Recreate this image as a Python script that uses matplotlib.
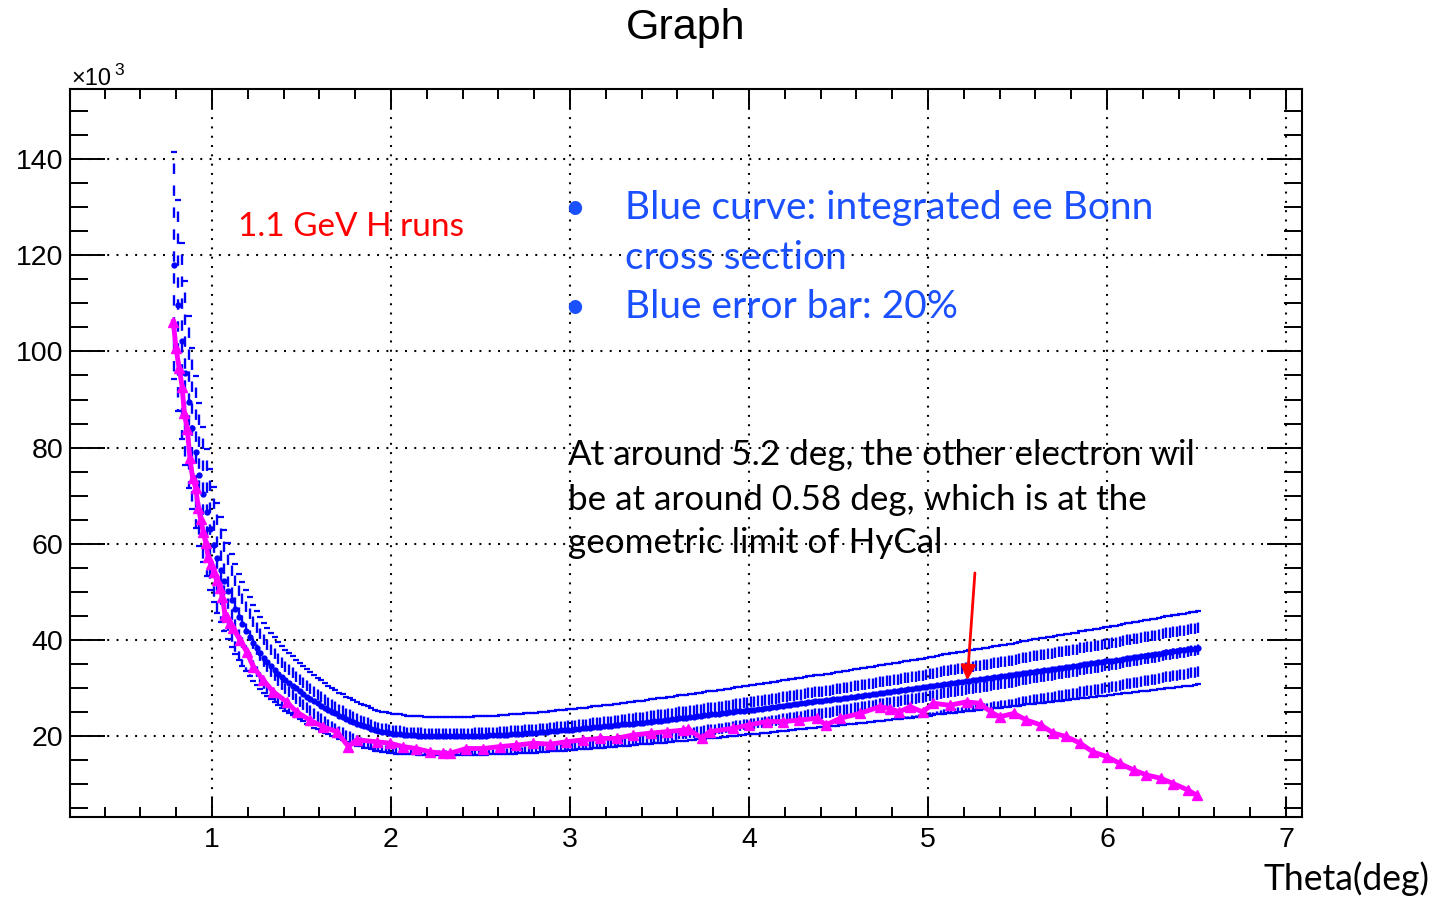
import matplotlib
matplotlib.use("Agg")
import matplotlib.pyplot as plt
import numpy as np

plt.rcParams["lines.scale_dashes"] = False
plt.rcParams["font.family"] = ["Liberation Sans", "DejaVu Sans"]

# blue curve: integrated ee Bonn cross section (x10^3), one point every 0.02 deg from 0.79
theta_bonn = np.round(np.arange(0.79, 6.5101, 0.02), 2)
xsec_bonn = [
    117.9, 109.6, 102.2, 95.5, 89.5, 84.0, 79.0, 74.4, 70.3, 66.5,
    63.0, 59.8, 57.1, 54.6, 52.3, 50.1, 48.2, 46.4, 44.8, 43.3,
    41.9, 40.7, 39.4, 38.3, 37.3, 36.3, 35.4, 34.6, 33.8, 33.0,
    32.3, 31.6, 31.1, 30.5, 29.9, 29.3, 28.8, 28.2, 27.8, 27.2,
    26.8, 26.3, 25.9, 25.4, 25.0, 24.7, 24.2, 23.9, 23.5, 23.2,
    22.9, 22.5, 22.3, 22.0, 21.8, 21.5, 21.2, 21.0, 20.9, 20.8,
    20.6, 20.5, 20.4, 20.4, 20.3, 20.2, 20.2, 20.2, 20.1, 20.1,
    20.0, 20.0, 20.0, 20.0, 20.0, 20.0, 20.0, 20.0, 20.0, 20.0,
    20.0, 20.0, 20.0, 20.0, 20.1, 20.1, 20.1, 20.1, 20.2, 20.2,
    20.2, 20.3, 20.3, 20.3, 20.4, 20.4, 20.5, 20.5, 20.6, 20.6,
    20.7, 20.7, 20.8, 20.9, 20.9, 21.0, 21.0, 21.1, 21.2, 21.2,
    21.3, 21.3, 21.4, 21.5, 21.6, 21.6, 21.7, 21.8, 21.8, 21.9,
    22.0, 22.1, 22.1, 22.2, 22.3, 22.4, 22.4, 22.5, 22.6, 22.7,
    22.8, 22.8, 22.9, 23.0, 23.1, 23.2, 23.2, 23.3, 23.4, 23.5,
    23.6, 23.7, 23.8, 23.8, 23.9, 24.0, 24.1, 24.2, 24.3, 24.4,
    24.5, 24.5, 24.6, 24.7, 24.8, 24.9, 25.0, 25.1, 25.2, 25.3,
    25.4, 25.5, 25.5, 25.6, 25.7, 25.8, 25.9, 26.0, 26.1, 26.2,
    26.3, 26.4, 26.5, 26.6, 26.7, 26.8, 26.9, 27.0, 27.1, 27.2,
    27.3, 27.3, 27.4, 27.5, 27.6, 27.7, 27.8, 27.9, 28.0, 28.1,
    28.2, 28.3, 28.4, 28.5, 28.6, 28.7, 28.8, 28.9, 29.0, 29.1,
    29.2, 29.3, 29.4, 29.5, 29.6, 29.7, 29.8, 29.9, 30.0, 30.1,
    30.2, 30.3, 30.4, 30.6, 30.7, 30.8, 30.9, 31.0, 31.1, 31.2,
    31.3, 31.4, 31.5, 31.6, 31.7, 31.8, 31.9, 32.0, 32.1, 32.2,
    32.3, 32.4, 32.5, 32.6, 32.7, 32.8, 32.9, 33.1, 33.2, 33.3,
    33.4, 33.5, 33.6, 33.7, 33.8, 33.9, 34.0, 34.1, 34.2, 34.3,
    34.4, 34.5, 34.6, 34.8, 34.9, 35.0, 35.1, 35.2, 35.3, 35.4,
    35.5, 35.6, 35.7, 35.8, 35.9, 36.1, 36.2, 36.3, 36.4, 36.5,
    36.6, 36.7, 36.8, 36.9, 37.0, 37.1, 37.3, 37.4, 37.5, 37.6,
    37.7, 37.8, 37.9, 38.0, 38.1, 38.2, 38.4,
]
err_frac = 0.2  # 20% error bars

# magenta: 1.1 GeV H runs (x10^3)
theta_data = [0.784, 0.799, 0.817, 0.834, 0.845, 0.862, 0.877, 0.892, 0.909, 0.924,
              0.937, 0.951, 0.966, 0.979, 0.994, 1.011, 1.026, 1.045, 1.058, 1.073,
              1.082, 1.100, 1.119, 1.156, 1.194, 1.231, 1.287, 1.343, 1.417, 1.473,
              1.547, 1.622, 1.697, 1.762, 1.808, 1.920, 1.994, 2.067, 2.140, 2.218,
              2.290, 2.330, 2.420, 2.516, 2.610, 2.700, 2.795, 2.890, 2.980, 3.075,
              3.170, 3.260, 3.350, 3.450, 3.540, 3.630, 3.660, 3.736, 3.780, 3.910,
              4.000, 4.100, 4.190, 4.280, 4.380, 4.430, 4.510, 4.620, 4.730, 4.790,
              4.840, 4.900, 4.970, 5.030, 5.120, 5.215, 5.290, 5.350, 5.400, 5.480,
              5.550, 5.630, 5.700, 5.770, 5.850, 5.920, 6.000, 6.070, 6.150, 6.220,
              6.300, 6.370, 6.450, 6.500]
xsec_data = [106.2, 100.7, 96.5, 92.6, 87.2, 83.8, 77.8, 73.7, 71.6, 67.5,
             65.1, 62.5, 60.1, 57.3, 55.8, 54.2, 52.4, 50.8, 49.0, 45.2,
             44.8, 43.5, 42.4, 40.0, 37.5, 34.4, 31.6, 29.2, 27.1, 25.0,
             23.3, 21.9, 20.9, 17.8, 19.2, 18.8, 18.5, 17.8, 17.4, 16.7,
             16.4, 16.4, 17.4, 17.4, 17.8, 18.1, 18.5, 18.3, 18.8, 19.2,
             19.5, 19.5, 20.2, 20.6, 20.9, 21.2, 21.5, 19.5, 20.9, 21.6,
             22.3, 23.0, 23.0, 23.3, 23.7, 22.3, 23.7, 24.7, 26.1, 25.7,
             25.0, 26.1, 25.0, 26.8, 26.4, 27.1, 26.8, 25.0, 24.0, 24.7,
             23.3, 22.3, 20.6, 19.9, 18.5, 16.7, 15.7, 14.3, 12.9, 11.9,
             11.2, 10.1, 8.8, 7.7]

W, H = 1439, 899
fig = plt.figure(figsize=(W / 100, H / 100), dpi=100)
ax = fig.add_axes([70 / W, 1 - 817 / H, (1302 - 70) / W, (817 - 89) / H])

ax.set_xlim(0.207, 7.089)
ax.set_ylim(3.15, 154.6)

# error bars drawn top -> bottom with a dash pattern
xb = np.asarray(theta_bonn)
yb = np.asarray(xsec_bonn)
ax.vlines(xb, yb * (1 + err_frac), yb * (1 - err_frac), colors="blue", lw=1.7,
          linestyles=[(7.5, (7.5, 8.3))], zorder=3)
ax.plot(xb, yb * (1 + err_frac), ls="none", marker="_", ms=5, mew=1.6, color="blue", zorder=3)
ax.plot(xb, yb * (1 - err_frac), ls="none", marker="_", ms=5, mew=1.6, color="blue", zorder=3)
ax.plot(xb, yb, ls="none", marker="o", ms=3.5, color="blue", zorder=3)

ax.plot(theta_data, xsec_data, color="magenta", lw=3.5, marker="^", ms=7, zorder=4)

# axes style (ROOT like)
ax.set_xticks([1, 2, 3, 4, 5, 6, 7])
ax.set_xticks(np.round(np.arange(0.4, 7.01, 0.2), 1), minor=True)
ax.set_yticks([20, 40, 60, 80, 100, 120, 140])
ax.set_yticks(np.arange(5, 151, 5), minor=True)
ax.grid(True, which="major", color="black", ls=(0, (1.4, 5.3)), lw=1.5)
ax.tick_params(which="both", direction="in", top=True, right=True, width=1.4,
               labelsize=20.5)
ax.tick_params(axis="x", which="major", length=14.4, pad=7)
ax.tick_params(axis="x", which="minor", length=7.2)
ax.tick_params(axis="y", which="major", length=25, pad=5)
ax.tick_params(axis="y", which="minor", length=13)
for sp in ax.spines.values():
    sp.set_linewidth(1.5)


def px(x, y):
    return x / W, 1 - y / H


fig.text(*px(686, 28), "Graph", ha="center", va="center", fontsize=31)
fig.text(*px(71, 85), "\u00d710", ha="left", va="baseline", fontsize=17)
fig.text(*px(114, 75), "3", ha="left", va="baseline", fontsize=12.5)

font = "Lato"
blue_txt = "#1a50ff"
fig.text(*px(238, 236), "1.1 GeV H runs", color="red", fontsize=24, family=font)
fig.text(*px(575, 219), "\u2022", color=blue_txt, fontsize=26, family=font, ha="center")
fig.text(*px(625, 219), "Blue curve: integrated ee Bonn", color=blue_txt, fontsize=28, family=font)
fig.text(*px(625, 269), "cross section", color=blue_txt, fontsize=28, family=font)
fig.text(*px(575, 318), "\u2022", color=blue_txt, fontsize=26, family=font, ha="center")
fig.text(*px(625, 318), "Blue error bar: 20%", color=blue_txt, fontsize=28, family=font)
fig.text(*px(568, 465), "At around 5.2 deg, the other electron wil", fontsize=25.2, family=font)
fig.text(*px(568, 510), "be at around 0.58 deg, which is at the", fontsize=25.2, family=font)
fig.text(*px(568, 553), "geometric limit of HyCal", fontsize=25.2, family=font)
fig.text(*px(1430, 890), "Theta(deg)", fontsize=25.6, family=font, ha="right")

ax.annotate("", xy=(5.218, 31.0), xytext=(5.263, 54.5),
            arrowprops=dict(arrowstyle="-|>", color="red", lw=2, mutation_scale=22))

fig.savefig("out.png", dpi=100)
